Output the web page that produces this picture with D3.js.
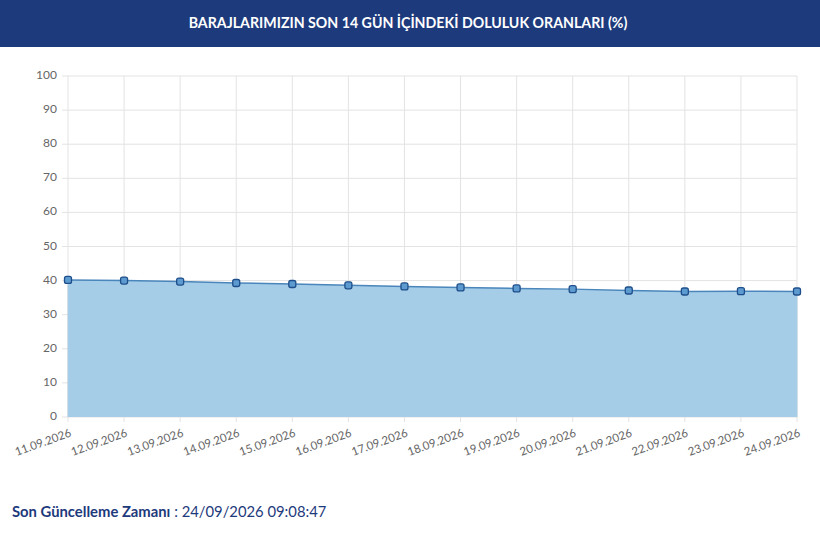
<!DOCTYPE html><html><head><meta charset="utf-8"><script src="https://cdn.jsdelivr.net/npm/d3@7"></script>
<style>body{margin:0;background:#fff;font-family:Lato,"Open Sans",sans-serif}</style></head><body>
<svg id="c" width="820" height="538"></svg>
<script>
const categories=["11.09.2026","12.09.2026","13.09.2026","14.09.2026","15.09.2026","16.09.2026","17.09.2026","18.09.2026","19.09.2026","20.09.2026","21.09.2026","22.09.2026","23.09.2026","24.09.2026"];
const values=[40.2,40.0,39.7,39.3,39.0,38.6,38.3,38.0,37.7,37.5,37.1,36.8,36.9,36.8];
const yTicks=[0,10,20,30,40,50,60,70,80,90,100];
const svg=d3.select("#c");
svg.append("rect").attr("width",820).attr("height",47).attr("fill","#1d3a7c");
svg.append("text").attr("x",408).attr("y",24).attr("text-anchor","middle").attr("dominant-baseline","middle")
 .attr("fill","#fff").attr("font-size",14.2).attr("font-weight","bold").text("BARAJLARIMIZIN SON 14 GÜN İÇİNDEKİ DOLULUK ORANLARI (%)");
const x=d3.scalePoint().domain(categories).range([68,797]);
const y=d3.scaleLinear().domain([0,100]).range([417,76]);
const g=svg.append("g");
g.selectAll(".h").data(yTicks).join("line").attr("x1",62).attr("x2",797).attr("y1",d=>y(d)).attr("y2",d=>y(d)).attr("stroke","#e3e3e3");
g.selectAll(".v").data(categories).join("line").attr("x1",d=>x(d)).attr("x2",d=>x(d)).attr("y1",76).attr("y2",422).attr("stroke","#e3e3e3");
g.selectAll(".yl").data(yTicks).join("text").attr("x",57).attr("y",d=>y(d)).attr("text-anchor","end").attr("dominant-baseline","middle")
 .attr("fill","#666").attr("font-size",12).text(d=>d);
svg.append("path").datum(values).attr("fill","#a5cde8").attr("d",d3.area().x((d,i)=>x(categories[i])).y0(y(0)).y1(d=>y(d)));
g.selectAll(".v2").data(categories).join("line").attr("x1",d=>x(d)).attr("x2",d=>x(d)).attr("y1",y(0)).attr("y2",d=>y(values[categories.indexOf(d)])).attr("stroke","#8fb7d3").attr("opacity",0.6);
g.selectAll(".h2").data(yTicks.slice(1,4)).join("line").attr("x1",68).attr("x2",797).attr("y1",d=>y(d)).attr("y2",d=>y(d)).attr("stroke","#8fb7d3").attr("opacity",0.5);
svg.append("path").datum(values).attr("fill","none").attr("stroke","#4a86bb").attr("stroke-width",1.5).attr("d",d3.line().x((d,i)=>x(categories[i])).y(d=>y(d)));
svg.selectAll(".m").data(values).join("rect").attr("x",(d,i)=>x(categories[i])-3.5).attr("y",d=>y(d)-3.5).attr("width",7).attr("height",7).attr("rx",2)
 .attr("fill","#5c9ad0").attr("stroke","#1f4f8a").attr("stroke-width",1.3);
svg.selectAll(".xl").data(categories).join("text").attr("transform",d=>`translate(${x(d)+4},${436}) rotate(-20)`).attr("text-anchor","end")
 .attr("fill","#666").attr("font-size",11.5).text(d=>d);
const t=svg.append("text").attr("x",12).attr("y",517).attr("font-size",14.8).attr("fill","#1d3a7c");
t.append("tspan").attr("font-weight","bold").text("Son Güncelleme Zamanı");
t.append("tspan").text(" : 24/09/2026 09:08:47");
</script></body></html>
